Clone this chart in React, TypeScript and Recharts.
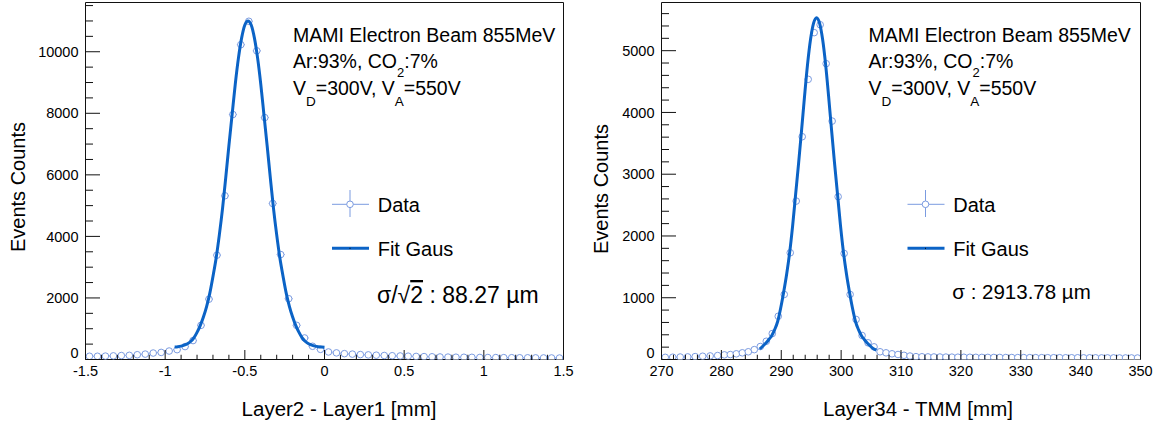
import { ComposedChart, XAxis, YAxis, Scatter, Line, ErrorBar, ReferenceArea } from 'recharts'

// ─── Styling ────────────────────────────────────────────────────────────────

const FONT = '"Liberation Sans", Arial, Helvetica, sans-serif'
const AXIS_COLOR = '#111111'
const FIT_COLOR = '#0b63c6'
const DATA_COLOR = '#7b9be0'

// ─── Layer2 - Layer1 residuals (0.05 mm bins) ───────────────────────────────

const LEFT_CENTERS = [
  -1.475, -1.425, -1.375, -1.325, -1.275, -1.225, -1.175, -1.125, -1.075, -1.025,
  -0.975, -0.925, -0.875, -0.825, -0.775, -0.725, -0.675, -0.625, -0.575, -0.525,
  -0.475, -0.425, -0.375, -0.325, -0.275, -0.225, -0.175, -0.125, -0.075, -0.025,
  0.025, 0.075, 0.125, 0.175, 0.225, 0.275, 0.325, 0.375, 0.425, 0.475,
  0.525, 0.575, 0.625, 0.675, 0.725, 0.775, 0.825, 0.875, 0.925, 0.975,
  1.025, 1.075, 1.125, 1.175, 1.225, 1.275, 1.325, 1.375, 1.425, 1.475,
]
const LEFT_COUNTS = [
  105, 105, 110, 118, 128, 135, 155, 175, 210, 230,
  275, 320, 420, 615, 1110, 1960, 3390, 5320, 7960, 10230,
  10990, 10030, 7860, 5070, 3410, 1975, 1110, 700, 430, 330,
  245, 215, 190, 175, 160, 150, 140, 130, 122, 115,
  108, 100, 94, 88, 82, 78, 74, 72, 70, 66,
  64, 62, 60, 58, 56, 55, 53, 51, 50, 48,
]
const LEFT_HALF_BIN = 0.025

const LEFT_FIT_X = [
  -0.94, -0.92, -0.9, -0.88, -0.86, -0.84, -0.82, -0.8, -0.78, -0.76, -0.74, -0.72,
  -0.7, -0.68, -0.66, -0.64, -0.62, -0.6, -0.58, -0.56, -0.54, -0.52, -0.5, -0.48,
  -0.46, -0.44, -0.42, -0.4, -0.38, -0.36, -0.34, -0.32, -0.3, -0.28, -0.26, -0.24,
  -0.22, -0.2, -0.18, -0.16, -0.14, -0.12, -0.1, -0.08, -0.06, -0.04, -0.02, 0,
]
const LEFT_FIT_Y = [
  405, 415, 435, 465, 510, 585, 700, 880, 1100, 1380, 1720, 2150,
  2700, 3300, 4050, 4900, 5900, 6950, 7950, 8950, 9800, 10450, 10870, 11000,
  10870, 10450, 9800, 8950, 7950, 6950, 5900, 4900, 4050, 3300, 2700, 2150,
  1720, 1380, 1100, 880, 700, 585, 510, 465, 435, 415, 405, 398,
]

const LEFT_X_MAJOR = [-1.5, -1, -0.5, 0, 0.5, 1, 1.5]
const LEFT_Y_MAJOR = [0, 2000, 4000, 6000, 8000, 10000]

// ─── Layer34 - TMM residuals ────────────────────────────────────────────────

const RIGHT_CENTERS = [
  270.625, 271.875, 273.125, 274.375, 275.625, 276.875, 278.125, 279.375,
  280.5, 281.5, 282.5, 283.5, 284.5, 285.5, 286.5, 287.5, 288.5, 289.5,
  290.5, 291.5, 292.5, 293.5, 294.5, 295.5, 296.5, 297.5, 298.5, 299.5,
  300.5, 301.5, 302.5, 303.5, 304.5, 305.5, 306.5, 307.5, 308.5, 309.5,
  310.5, 311.5, 312.5, 313.5, 314.5, 315.5, 316.5, 317.5, 318.5, 319.5,
  320.5, 321.5, 322.5, 323.5, 324.5, 325.5, 326.5, 327.5, 328.5, 329.5,
  330.5, 331.5, 332.5, 333.5, 334.5, 335.5, 336.5, 337.5, 338.5, 339.5,
  340.5, 341.5, 342.5, 343.5, 344.5, 345.5, 346.5, 347.5, 348.5, 349.5,
]
const RIGHT_COUNTS = [
  35, 37, 40, 42, 47, 53, 58, 64,
  75, 80, 92, 108, 125, 160, 210, 295, 420, 700,
  1053, 1728, 2565, 3607, 4536, 5292, 5420, 4790, 3860, 2636,
  1717, 1053, 648, 389, 270, 205, 125, 108, 92, 81,
  68, 56, 46, 44, 42, 41, 40, 39, 38, 37,
  36, 36, 35, 34, 34, 33, 33, 32, 32, 31,
  31, 30, 30, 30, 29, 29, 29, 28, 28, 28,
  27, 27, 27, 26, 26, 26, 25, 25, 25, 24,
]

const RIGHT_FIT_X = [
  286.4, 286.9, 287.4, 287.9, 288.4, 288.9, 289.4, 289.9, 290.4, 290.9,
  291.4, 291.9, 292.4, 292.9, 293.4, 293.9, 294.4, 294.9, 295.4, 295.9,
  296.4, 296.9, 297.4, 297.9, 298.4, 298.9, 299.4, 299.9, 300.4, 300.9,
  301.4, 301.9, 302.4, 302.9, 303.4, 303.9, 304.4, 304.9, 305.4, 305.9,
]
const RIGHT_FIT_Y = [
  170, 215, 262, 320, 386, 483, 615, 830, 1089, 1380,
  1728, 2165, 2672, 3181, 3716, 4273, 4786, 5188, 5446, 5535,
  5446, 5188, 4786, 4273, 3716, 3181, 2672, 2165, 1728, 1380,
  1089, 830, 615, 483, 386, 320, 262, 215, 175, 152,
]

const RIGHT_X_MAJOR = [270, 280, 290, 300, 310, 320, 330, 340, 350]
const RIGHT_Y_MAJOR = [0, 1000, 2000, 3000, 4000, 5000]

// ─── Helpers ────────────────────────────────────────────────────────────────

function stepTicks(lo: number, hi: number, step: number) {
  const out: number[] = []
  const n = Math.round((hi - lo) / step)
  for (let i = 0; i <= n; i++) out.push(Math.round((lo + i * step) * 1e6) / 1e6)
  return out
}

type Pt = { x: number; y: number; ex?: number }

// ─── Panel ──────────────────────────────────────────────────────────────────

type PanelProps = {
  left: number
  width: number
  yAxisWidth: number
  marginRight: number
  xDomain: [number, number]
  yMax: number
  xStep: number
  yStep: number
  xMajor: number[]
  yMajor: number[]
  xMajorLen: number
  points: Pt[]
  fit: Pt[]
}

function Panel(p: PanelProps) {
  const xTicks = stepTicks(p.xDomain[0], p.xDomain[1], p.xStep)
  const yTicks = stepTicks(0, Math.floor(p.yMax / p.yStep) * p.yStep, p.yStep)
  const xMajor = new Set(p.xMajor)
  const yMajor = new Set(p.yMajor)
  const margin = { top: 2.5, right: p.marginRight, bottom: 0, left: 0 }

  // eslint-disable-next-line @typescript-eslint/no-explicit-any
  const xTick = (t: any) => {
    const v = t.payload.value as number
    const major = xMajor.has(v)
    return (
      <g>
        <line
          x1={t.x}
          x2={t.x}
          y1={t.y}
          y2={t.y - (major ? p.xMajorLen : p.xMajorLen / 2)}
          stroke={AXIS_COLOR}
          strokeWidth={1}
        />
        {major && (
          <text x={t.x} y={t.y + 16.5} textAnchor="middle" fontSize={14.5} fontFamily={FONT} fill="#000">
            {String(v)}
          </text>
        )}
      </g>
    )
  }

  // eslint-disable-next-line @typescript-eslint/no-explicit-any
  const yTick = (t: any) => {
    const v = t.payload.value as number
    const major = yMajor.has(v)
    return (
      <g>
        <line
          x1={t.x}
          x2={t.x + (major ? 14.5 : 7.5)}
          y1={t.y}
          y2={t.y}
          stroke={AXIS_COLOR}
          strokeWidth={1}
        />
        {major && (
          <text
            x={t.x - 7}
            y={v === 0 ? t.y - 1.5 : t.y + 5.2}
            textAnchor="end"
            fontSize={14.5}
            fontFamily={FONT}
            fill="#000"
          >
            {String(v)}
          </text>
        )}
      </g>
    )
  }

  // eslint-disable-next-line @typescript-eslint/no-explicit-any
  const marker = (s: any) => (
    <circle cx={s.cx} cy={s.cy} r={3.3} fill="#fff" stroke={DATA_COLOR} strokeWidth={1} />
  )

  // same geometry for both layers so the fit sits exactly over the histogram
  const axes = (withTicks: boolean) => [
    <XAxis
      key="x"
      type="number"
      dataKey="x"
      domain={p.xDomain}
      ticks={xTicks}
      interval={0}
      allowDataOverflow
      height={64.5}
      tickSize={0}
      tickMargin={0}
      axisLine={false}
      tickLine={false}
      tick={withTicks ? xTick : false}
    />,
    <YAxis
      key="y"
      type="number"
      dataKey="y"
      domain={[0, p.yMax]}
      ticks={yTicks}
      interval={0}
      allowDataOverflow
      width={p.yAxisWidth}
      tickSize={0}
      tickMargin={0}
      axisLine={false}
      tickLine={false}
      tick={withTicks ? yTick : false}
    />,
  ]

  return (
    <>
      <div style={{ position: 'absolute', left: p.left, top: 0 }}>
        <ComposedChart width={p.width} height={424} margin={margin}>
          {axes(true)}
          <ReferenceArea
            x1={p.xDomain[0]}
            x2={p.xDomain[1]}
            y1={0}
            y2={p.yMax}
            fill="none"
            fillOpacity={0}
            stroke={AXIS_COLOR}
            strokeWidth={1}
            ifOverflow="visible"
          />
          <Scatter data={p.points} shape={marker} isAnimationActive={false}>
            <ErrorBar dataKey="ex" direction="x" width={0} stroke={DATA_COLOR} strokeWidth={1} isAnimationActive={false} />
          </Scatter>
        </ComposedChart>
      </div>
      {/* fit curve layer, drawn over the markers */}
      <div style={{ position: 'absolute', left: p.left, top: 0, pointerEvents: 'none' }}>
        <ComposedChart width={p.width} height={424} margin={margin}>
          {axes(false)}
          <Line
            data={p.fit}
            dataKey="y"
            type="monotone"
            dot={false}
            activeDot={false}
            stroke={FIT_COLOR}
            strokeWidth={3}
            isAnimationActive={false}
          />
        </ComposedChart>
      </div>
    </>
  )
}

// ─── Text, legend and axis titles ───────────────────────────────────────────

function Annotations({ dx }: { dx: number }) {
  const tx = 293 + dx
  const lx = 332 + dx
  const mid = lx + 18
  return (
    <g fontFamily={FONT} fill="#000">
      <text x={tx} y={42.3} fontSize={19.5}>MAMI Electron Beam 855MeV</text>
      <text x={tx} y={68.3} fontSize={19.5}>
        Ar:93%, CO
        <tspan fontSize={13} dy={9}>2</tspan>
        <tspan dy={-9}>:7%</tspan>
      </text>
      <text x={tx} y={95} fontSize={19.5}>
        V
        <tspan fontSize={13.5} dy={11}>D</tspan>
        <tspan dy={-11}>=300V, V</tspan>
        <tspan fontSize={13.5} dy={11}>A</tspan>
        <tspan dy={-11}>=550V</tspan>
      </text>

      <line x1={lx} x2={lx + 37} y1={204.3} y2={204.3} stroke={DATA_COLOR} strokeWidth={1} />
      <line x1={mid} x2={mid} y1={190} y2={217} stroke={DATA_COLOR} strokeWidth={1} />
      <circle cx={mid} cy={204.3} r={3.3} fill="#fff" stroke={DATA_COLOR} strokeWidth={1} />
      <text x={lx + 45.7} y={211.7} fontSize={20}>Data</text>

      <line x1={lx} x2={lx + 37} y1={248.3} y2={248.3} stroke={FIT_COLOR} strokeWidth={3} />
      <rect x={mid - 0.5} y={247.8} width={1} height={1} fill="#000" />
      <text x={lx + 45.7} y={255.5} fontSize={20}>Fit Gaus</text>
    </g>
  )
}

export default function App() {
  const leftPoints = LEFT_CENTERS.map((x, i) => ({ x, y: LEFT_COUNTS[i], ex: LEFT_HALF_BIN }))
  const leftFit = LEFT_FIT_X.map((x, i) => ({ x, y: LEFT_FIT_Y[i] }))
  const rightPoints = RIGHT_CENTERS.map((x, i) => ({
    x,
    y: RIGHT_COUNTS[i],
    ex: x < 280 ? 0.625 : 0.5,
  }))
  const rightFit = RIGHT_FIT_X.map((x, i) => ({ x, y: RIGHT_FIT_Y[i] }))

  return (
    <div
      style={{
        position: 'absolute',
        left: 0,
        top: 0,
        width: 1158,
        height: 424,
        background: '#fff',
        overflow: 'hidden',
      }}
    >
      <Panel
        left={0}
        width={580}
        yAxisWidth={85.5}
        marginRight={16.5}
        xDomain={[-1.5, 1.5]}
        yMax={11600}
        xStep={0.1}
        yStep={500}
        xMajor={LEFT_X_MAJOR}
        yMajor={LEFT_Y_MAJOR}
        xMajorLen={9.5}
        points={leftPoints}
        fit={leftFit}
      />
      <Panel
        left={580}
        width={578}
        yAxisWidth={81.5}
        marginRight={17.5}
        xDomain={[270, 350]}
        yMax={5780}
        xStep={2}
        yStep={200}
        xMajor={RIGHT_X_MAJOR}
        yMajor={RIGHT_Y_MAJOR}
        xMajorLen={9.5}
        points={rightPoints}
        fit={rightFit}
      />
      <svg
        width={1158}
        height={424}
        style={{ position: 'absolute', left: 0, top: 0, pointerEvents: 'none' }}
      >
        <Annotations dx={0} />
        <Annotations dx={575.5} />

        <text x={377} y={303} fontSize={23} fontFamily={FONT} fill="#000">
          σ/√<tspan textDecoration="overline">2</tspan> : 88.27 µm
        </text>
        <text x={952.3} y={298.5} fontSize={20.5} fontFamily={FONT} fill="#000">
          σ : 2913.78 µm
        </text>

        <text transform="translate(25,187) rotate(-90)" textAnchor="middle" fontSize={20} fontFamily={FONT} fill="#000">
          Events Counts
        </text>
        <text transform="translate(608,189) rotate(-90)" textAnchor="middle" fontSize={20} fontFamily={FONT} fill="#000">
          Events Counts
        </text>
        <text x={339} y={416} textAnchor="middle" fontSize={20.5} fontFamily={FONT} fill="#000">
          Layer2 - Layer1 [mm]
        </text>
        <text x={918} y={416} textAnchor="middle" fontSize={20.5} fontFamily={FONT} fill="#000">
          Layer34 - TMM [mm]
        </text>
      </svg>
    </div>
  )
}
